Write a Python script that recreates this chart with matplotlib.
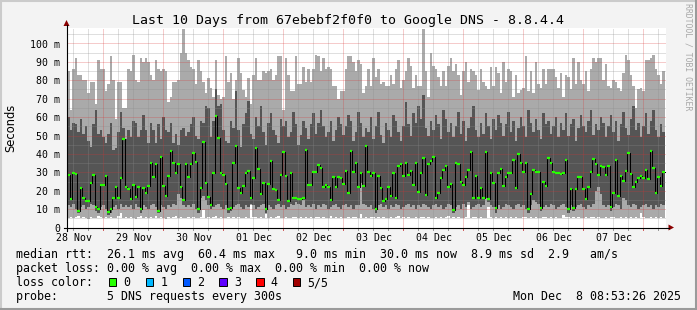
import numpy as np
import matplotlib
matplotlib.use("Agg")
import matplotlib.pyplot as plt
from matplotlib.transforms import Affine2D, blended_transform_factory
from matplotlib.patches import Rectangle, Polygon
from matplotlib.lines import Line2D

# ---------------- data (hourly, ms) ----------------
rtt_max = [85, 64, 86, 92, 83, 83, 80, 80, 73, 79, 79, 67, 91, 86, 86, 74, 78, 93, 80, 59, 79, 79, 65, 65,
           86, 85, 94, 80, 79, 92, 90, 92, 90, 83, 80, 91, 86, 85, 86, 85, 68, 71, 79, 79, 80, 95, 108, 95,
           91, 87, 86, 78, 91, 85, 79, 73, 81, 76, 71, 91, 72, 70, 71, 93, 79, 84, 70, 80, 92, 84, 75, 71,
           81, 67, 83, 92, 80, 80, 85, 84, 85, 86, 80, 83, 93, 93, 64, 92, 83, 74, 74, 93, 78, 78, 87, 79,
           86, 79, 86, 94, 93, 85, 92, 86, 87, 86, 77, 77, 70, 74, 74,
           86, 93, 93, 90, 85, 91, 89, 73, 77, 86, 77, 92, 82, 86, 78, 79, 77, 77, 83, 78,
           86, 91, 76, 80, 85, 92, 88, 76, 83, 77, 77, 108, 85, 71, 95, 88, 86, 82, 77, 85,
           77, 88, 92, 85, 89, 83, 72, 85, 90, 79, 86, 85, 83, 75, 86, 79, 77, 75, 87, 77,
           87, 84, 73, 90, 79, 86, 85, 71, 83, 73, 75, 76, 93, 74, 85, 73, 90, 78, 76, 86,
           78, 86, 86, 86, 82, 76, 84, 71, 83, 82, 75, 92, 78, 90, 80, 78, 85, 74, 86, 92,
           90, 92, 92, 80, 89, 77, 76, 80, 79, 76, 74, 84, 94, 91, 83, 77, 65, 75, 76, 74,
           91, 91, 92, 94, 86, 83, 78, 85]

rtt_p4 = [60, 53, 57, 56, 52, 59, 51, 55, 47, 44, 56, 64, 51, 53, 49, 46, 51, 57, 42, 43, 52, 63, 54, 48,
          53, 49, 58, 57, 49, 53, 61, 53, 46, 57, 53, 46, 56, 48, 60, 53, 52, 57, 46, 51, 45, 53, 54, 50,
          52, 56, 60, 50, 48, 58, 57, 66, 65, 49, 58, 75, 66, 67, 53, 47, 46, 58, 54, 74, 53, 44, 56, 62,
          69, 51, 48, 60, 55, 66, 52, 45, 57, 62, 53, 50, 46, 59, 55, 58, 49, 52, 63, 56, 45, 50, 58, 54,
          48, 56, 62, 51, 57, 64, 55, 49, 52, 58, 47, 53, 60, 56, 50, 55, 61, 58, 47, 52, 63, 57, 49, 54,
          52, 60, 48, 55, 63, 50, 46, 57, 53, 49, 61, 58, 52, 47, 55, 68, 56, 50, 62, 57, 66, 59, 72, 54,
          50, 58, 53, 61, 56, 48, 64, 59, 52, 57, 49, 55, 63, 51, 58, 47, 54, 60, 66, 53, 49, 57, 51, 62,
          55, 48, 59, 53, 61, 57, 50, 56, 63, 52, 58, 47, 54, 60, 55, 49, 64, 57, 52, 59, 53, 48, 62, 56,
          58, 51, 55, 60, 49, 57, 53, 62, 50, 56, 59, 47, 54, 61, 55, 52, 58, 64, 50, 56, 53, 60, 57, 49,
          55, 61, 52, 58, 47, 56, 63, 54, 50, 59, 66, 53, 57, 49, 55, 62, 51, 58, 64, 53, 49, 56, 52]

rtt_p2 = [12, 11, 13, 10, 8, 11, 12, 10, 11, 13, 12, 9, 8, 11, 12, 10, 7, 8, 11, 12, 10, 13, 11, 12,
          11, 12, 10, 13, 11, 8, 12, 11, 10, 12, 13, 11, 8, 12, 11, 10, 12, 11, 13, 12, 18, 16, 12, 11,
          12, 11, 13, 10, 8, 16, 17, 15, 12, 10, 11, 12, 13, 11, 10, 12, 8, 9, 11, 12, 13, 11, 10, 12,
          11, 13, 12, 10, 11, 12, 13, 8, 12, 11, 10, 12, 13, 11, 12, 10, 11, 13, 12, 14, 13, 12, 15, 11,
          12, 11, 13, 10, 12, 11, 13, 12, 10, 11, 12, 13, 11, 10, 12, 13, 11, 12, 10, 12, 12, 24, 13, 12,
          11, 12, 10, 8, 12, 13, 11, 12, 10, 12, 11, 13, 12, 10, 11, 12, 13, 11, 12, 10, 12, 11, 13, 12,
          11, 10, 12, 13, 11, 12, 10, 11, 13, 12, 8, 11, 12, 10, 13, 11, 14, 10, 11, 12, 13, 11, 12, 16,
          14, 12, 11, 8, 12, 10, 11, 13, 12, 11, 10, 12, 13, 11, 12, 10, 8, 12, 15, 14, 13, 9, 11, 12,
          11, 13, 12, 10, 11, 12, 13, 11, 8, 12, 9, 11, 12, 13, 11, 10, 12, 11, 13, 20, 22, 18, 12, 11,
          12, 9, 11, 13, 12, 10, 16, 15, 12, 11, 13, 12, 10, 11, 12, 13, 11, 12, 10, 12, 11, 13, 12]

rtt_min = [5.2, 5.8, 4.9, 5.5, 6.1, 5.0, 5.6, 5.3, 4.8, 5.9, 5.4, 5.1, 6.0, 5.5, 4.9, 5.7, 5.2, 5.8, 5.0, 5.4, 6.2, 7.7, 5.3, 5.6,
           5.1, 5.9, 5.4, 4.8, 5.6, 6.0, 5.2, 5.5, 4.9, 5.7, 5.3, 6.1, 5.0, 5.6, 5.4, 4.8, 5.9, 5.2, 5.5, 6.0, 5.1, 5.7, 5.3, 4.9,
           5.6, 5.2, 5.9, 5.4, 5.0, 5.8, 9.5, 5.3, 5.6, 4.9, 5.5, 6.0, 5.2, 5.7, 5.4, 5.0, 5.9, 5.3, 5.6, 5.1, 5.8, 5.4, 5.0, 5.6,
           5.3, 12.0, 5.5, 5.9, 5.2, 5.6, 5.0, 7.5, 5.4, 5.8, 5.1, 5.5, 6.0, 5.3, 4.9, 5.7, 5.4, 5.2, 5.8, 5.5, 5.0, 5.6, 5.3, 5.9,
           5.2, 5.6, 5.0, 5.5, 5.9, 5.3, 5.7, 5.1, 5.4, 6.0, 5.2, 5.6, 5.0, 5.8, 5.4, 5.1, 5.7, 5.3, 5.5, 5.9, 5.2, 7.5, 5.4, 5.6,
           5.0, 5.5, 5.8, 5.3, 5.6, 5.1, 5.9, 5.4, 5.2, 5.7, 5.0, 5.5, 6.0, 5.3, 5.6, 5.2, 5.8, 5.4, 5.1, 5.7, 5.3, 5.5, 5.9, 5.2,
           5.6, 5.3, 5.0, 5.8, 5.4, 5.7, 5.2, 5.5, 6.0, 5.1, 5.6, 5.3, 5.9, 5.4, 5.0, 5.7, 12.0, 5.3, 5.5, 5.8, 5.2, 5.6, 5.0, 5.4,
           11.0, 5.5, 5.2, 5.8, 5.4, 5.6, 5.1, 5.9, 5.3, 5.5, 5.0, 5.7, 5.4, 5.2, 5.8, 5.6, 5.3, 5.5, 5.1, 5.9, 5.4, 5.2, 5.7, 5.5,
           5.3, 5.6, 5.0, 5.8, 5.4, 5.2, 7.0, 5.5, 5.7, 5.1, 5.6, 5.3, 5.9, 5.4, 5.2, 5.6, 5.0, 5.5, 5.8, 5.3, 5.6, 5.1, 5.4, 5.7,
           5.2, 5.5, 5.8, 5.3, 5.0, 5.6, 5.4, 5.9, 5.2, 5.5, 5.1, 5.7, 5.3, 8.0, 5.6, 5.4, 5.0, 5.8, 5.3, 5.5, 5.2, 5.6, 5.4]

rtt_median = [28.5, 15.5, 29.5, 29, 9, 21.5, 16, 14.6, 14.6, 24.4,
              28.5, 11, 10, 23.3, 23.3, 28, 8.6, 10, 16, 21.8,
              16, 27, 48, 22, 21, 15.7, 23, 16.8, 21.8, 10.2,
              21.5, 19, 22.5, 35.2, 27.3, 34.5, 9.1, 38.5, 22.5, 17.1,
              28, 41.4, 35.2, 29.4, 34.5, 21.8, 15, 34.5, 27.6, 34.5,
              40.3, 35.4, 10, 21.3, 46.3, 24, 16.4, 12.2, 29.4, 60.4,
              48.5, 29.4, 28.5, 23.6, 9.9, 10.8, 35.2, 44.3, 21.5, 19,
              22.5, 29.8, 30.9, 15.9, 26.9, 43, 32, 18.2, 24, 10,
              23.6, 36.1, 20.7, 20.4, 15, 28.5, 40.9, 28, 14.6, 29.8,
              16, 16, 15.3, 15.3, 16, 42, 23.1, 23.1, 30.4, 30.4,
              34, 32.1, 22.2, 23.1, 21.8, 15, 27.6, 21.8, 27.6, 26.7,
              23.6, 30.7, 19,
              41.8, 30.4, 34.9, 22.2, 29.4, 22.5, 44.5, 30.4, 28.2, 29.8,
              9.9, 28, 21.6, 14.6, 15.3, 21.8, 17.1, 29.4, 16.2, 33.4,
              34.3, 28.2, 35.2, 28.5, 30.9, 23.1, 35.2, 19.5, 29.4, 37.9,
              17.6, 34.5, 36.1, 38.5, 16.2, 19, 27.1, 31.3, 33.4, 22.2,
              23.6, 9.5, 35.2, 34.5, 24.9, 23.1, 27.6, 31.3, 41.2, 16.2,
              28, 16.2, 21.3, 15.9, 41.2, 15.3, 29.4, 24.4, 10.4, 29.4,
              31.6, 22.5, 27.6, 29.4, 29.4, 36.7, 21.6, 40, 34.9, 30.4,
              35.2, 9.9, 18.2, 31.3, 30.4, 30.4, 10.8, 24.9, 22.5, 37.6,
              34.9, 30.4, 29.8, 29.4, 28.9, 29.4, 36.7, 9.9, 20.7, 10.4,
              20.7, 27.6, 27.6, 20.7, 15.3, 21.8, 30.4, 37.1, 34.5, 28.5,
              33.4, 33, 28.5, 33.4, 11, 19, 36.7, 17.1, 28.2, 25.4,
              30.9, 40.7, 29.1, 22.2, 24.9, 26.7, 28, 26.7, 31.3, 26.2,
              41.8, 32.1, 18.6, 27.6, 22.5, 30.0]

day_labels = ["28 Nov", "29 Nov", "30 Nov", "01 Dec", "02 Dec",
              "03 Dec", "04 Dec", "05 Dec", "06 Dec", "07 Dec"]
y_major = [0, 10, 20, 30, 40, 50, 60, 70, 80, 90, 100]
y_labels = ["0", "10 m", "20 m", "30 m", "40 m", "50 m", "60 m", "70 m", "80 m", "90 m", "100 m"]

loss_labels = ["0", "1", "2", "3", "4", "5/5"]
loss_colors = ["#26ff00", "#00b8ff", "#0059ff", "#5e00ff", "#ff0000", "#a00000"]

title = "Last 10 Days from 67ebebf2f0f0 to Google DNS - 8.8.4.4"

# ---------------- figure ----------------
W, H = 697, 310
fig = plt.figure(figsize=(W / 100, H / 100), dpi=100, facecolor="#f3f3f3")
P = Affine2D().scale(1 / W, -1 / H).translate(0, 1) + fig.transFigure  # pixel coords

MONO = "DejaVu Sans Mono"

# frame shading
fig.add_artist(Line2D([0, W], [1, 1], transform=P, color="#cbcbcb", lw=1.5))
fig.add_artist(Line2D([1, 1], [0, H], transform=P, color="#cbcbcb", lw=1.5))
fig.add_artist(Line2D([0, W], [H - 1, H - 1], transform=P, color="#9a9a9a", lw=1.5))
fig.add_artist(Line2D([W - 1, W - 1], [0, H], transform=P, color="#9a9a9a", lw=1.5))

L, R, T, B = 67, 666, 28, 227.5
ax = fig.add_axes([L / W, 1 - B / H, (R - L) / W, (B - T) / H])
ax.set_facecolor("white")
px_per_h = 2.5
px_per_ms = 1.84
ax.set_xlim(0, (R - L) / px_per_h)
ax.set_ylim(0, (B - T) / px_per_ms)
for s in ax.spines.values():
    s.set_visible(False)

N = len(rtt_median)
x = np.arange(N)
mx = np.array(rtt_max, float)
mn = np.array(rtt_min, float)
p2 = np.array(rtt_p2, float)
p4 = np.array(rtt_p4, float)
med = np.array(rtt_median, float)

ax.bar(x, mx - mn, bottom=mn, width=1.0, align="edge", color="#aaaaaa", linewidth=0, zorder=1)
ax.bar(x, p4 - p2, bottom=p2, width=1.0, align="edge", color="#555555", linewidth=0, zorder=1.1)

# grid on top of smoke
major_x = [14.5 + 24 * k for k in range(10)]
minor_x = [2.5 + 6 * k for k in range(40) if (2.5 + 6 * k) not in major_x and 2.5 + 6 * k < 239]
grid_minor = dict(color=(0.55, 0.55, 0.55, 0.55), lw=0.72, ls=(0, (1, 1)), zorder=2)
grid_major = dict(color=(0.85, 0.2, 0.2, 0.5), lw=0.72, ls=(0, (1, 1)), zorder=2.1)
for v in minor_x:
    ax.axvline(v, **grid_minor)
for v in range(5, 110, 10):
    ax.axhline(v, **grid_minor)
for v in major_x:
    ax.axvline(v, **grid_major)
for v in y_major[1:]:
    ax.axhline(v, **grid_major)

# small tick marks under the x axis
for v in minor_x:
    ax.add_line(Line2D([v, v], [0, -1.4], color="#9a9a9a", lw=0.72, clip_on=False, zorder=3))
for v in major_x:
    ax.add_line(Line2D([v, v], [0, -1.4], color="#d06060", lw=0.72, clip_on=False, zorder=3))

# median line
ax.step(np.arange(N + 1), np.append(med, med[-1]), where="post", color="black", lw=0.75, zorder=4)
ax.hlines(med, x, x + 1, colors=loss_colors[0], lw=1.6, zorder=5)

# y ticks
ax.set_xticks([])
ax.set_yticks(y_major)
ax.set_yticklabels(y_labels, family=MONO, fontsize=7.1)
ax.tick_params(axis="y", length=0, pad=5.0)

# x labels (centered on the day)
bt = blended_transform_factory(ax.transData, ax.transAxes)
for k, lab in enumerate(day_labels):
    ax.text(2.9 + 24 * k, -(241 - B) / (B - T), lab, transform=bt, ha="center", va="baseline",
            family=MONO, fontsize=7.1, clip_on=False)

# axes lines + arrows
fig.add_artist(Line2D([64, 669], [B, B], transform=P, color="black", lw=0.8))
fig.add_artist(Line2D([L - 0.5, L - 0.5], [B + 3, 25], transform=P, color="black", lw=0.8))
fig.add_artist(Polygon([[668.5, B - 3], [668.5, B + 3], [674, B]], closed=True, transform=P,
                       facecolor="#8b0000", edgecolor="none"))
fig.add_artist(Polygon([[L - 3.5, 26], [L + 2.5, 26], [L - 0.5, 20]], closed=True, transform=P,
                       facecolor="#8b0000", edgecolor="none"))

# title / labels
fig.text(347.5, 24, title, transform=P, ha="center", va="baseline", family=MONO, fontsize=9.5)
fig.text(11, 127.5, "Seconds", transform=P, ha="center", va="center", rotation=90,
         family="DejaVu Sans", fontsize=8.3)
fig.text(687.7, 3, "RRDTOOL / TOBI OETIKER", transform=P, ha="center", va="top", rotation=270,
         family=MONO, fontsize=5.85, color="#a8a8a8")

# legend
lf = dict(transform=P, ha="left", va="baseline", family=MONO, fontsize=8.4)
fig.text(16, 258, "median rtt:  26.1 ms avg  60.4 ms max   9.0 ms min  30.0 ms now  8.9 ms sd  2.9   am/s", **lf)
fig.text(16, 272, "packet loss: 0.00 % avg  0.00 % max  0.00 % min  0.00 % now", **lf)
fig.text(16, 286, "loss color:", **lf)
box_x = [108.7, 145.7, 182.7, 219.3, 256.0, 292.7]
for bx, lab, col in zip(box_x, loss_labels, loss_colors):
    fig.add_artist(Rectangle((bx, 278.3), 7.5, 8, transform=P, facecolor=col,
                             edgecolor="black", lw=0.7))
    fig.text(bx + 14.6, 286, lab, **lf)
fig.text(16, 300, "probe:       5 DNS requests every 300s", **lf)
fig.text(680.7, 300, "Mon Dec  8 08:53:26 2025", transform=P, ha="right", va="baseline",
         family=MONO, fontsize=8.4)

fig.savefig("out.png", dpi=100, facecolor=fig.get_facecolor())
